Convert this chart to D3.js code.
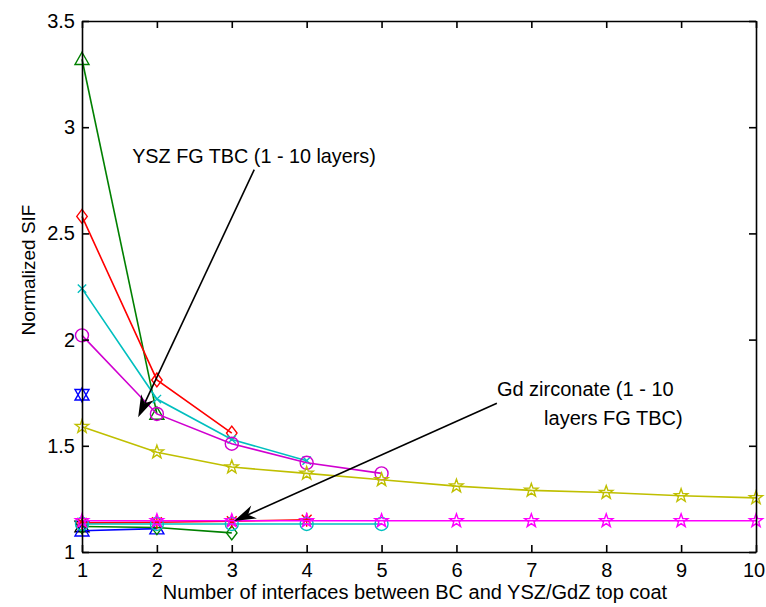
<!DOCTYPE html>
<meta charset="utf-8">
<script src="https://d3js.org/d3.v7.min.js"></script>
<style type="text/css">
body { margin: 0; background: #fff; }
svg { font-family: "Liberation Sans", Arial, sans-serif; }
.axis path, .axis line { stroke: #000; stroke-width: 1.6; }
.axis text { font-size: 20px; fill: #000; font-family: "Liberation Sans", Arial, sans-serif; }
</style>
<body>
</body>
<script>

// x positions: number of interfaces
var interfaces = [1, 2, 3, 4, 5, 6, 7, 8, 9, 10];
var xTicks = [1, 2, 3, 4, 5, 6, 7, 8, 9, 10];
var yTicks = [1, 1.5, 2, 2.5, 3, 3.5];

// YSZ FG TBC curves (1 - 10 layers)
var yszBlue    = [1.74];
var yszGreen   = [3.32, 1.65];
var yszRed     = [2.58, 1.81, 1.56];
var yszCyan    = [2.24, 1.72, 1.53, 1.43];
var yszMagenta = [2.02, 1.65, 1.51, 1.42, 1.37];
var yszYellow  = [1.59, 1.47, 1.40, 1.37, 1.34, 1.31, 1.29, 1.28, 1.265, 1.255];

// Gd zirconate curves (1 - 10 layers FG TBC)
var gdBlack   = [1.12];
var gdBlue    = [1.10, 1.11];
var gdGreen   = [1.12, 1.115, 1.09];
var gdRed     = [1.137, 1.14, 1.145, 1.152];
var gdCyan    = [1.132, 1.132, 1.132, 1.132, 1.132];
var gdMagenta = [1.147, 1.147, 1.147, 1.147, 1.147, 1.147, 1.147, 1.147, 1.147, 1.147];

var width = 766;
var height = 607;
var mLeft = 82, mRight = 756, mTop = 21, mBottom = 552;

var svg = d3.select("body").append("svg")
    .attr("width", width)
    .attr("height", height);

var x = d3.scaleLinear().domain([1, 10]).range([mLeft, mRight]);
var y = d3.scaleLinear().domain([1, 3.5]).range([mBottom, mTop]);

// marker shapes (matlab style, outlined)
function markerPath(type, s) {
  var r = s / 2, p, i, a;
  if (type == "circle") {
    return "M" + r + ",0A" + r + "," + r + " 0 1,1 " + (-r) + ",0A" + r + "," + r + " 0 1,1 " + r + ",0Z";
  }
  if (type == "triUp") return "M0," + (-r) + "L" + r + "," + (r * 0.75) + "L" + (-r) + "," + (r * 0.75) + "Z";
  if (type == "triDown") return "M0," + r + "L" + r + "," + (-r * 0.75) + "L" + (-r) + "," + (-r * 0.75) + "Z";
  if (type == "diamond") return "M0," + (-r) + "L" + (r * 0.75) + ",0L0," + r + "L" + (-r * 0.75) + ",0Z";
  if (type == "x") return "M" + (-r * 0.6) + "," + (-r * 0.6) + "L" + (r * 0.6) + "," + (r * 0.6) + "M" + (r * 0.6) + "," + (-r * 0.6) + "L" + (-r * 0.6) + "," + (r * 0.6);
  if (type == "asterisk") {
    return "M0," + (-r) + "L0," + r + "M" + (-r) + ",0L" + r + ",0" +
      "M" + (-r * 0.7) + "," + (-r * 0.7) + "L" + (r * 0.7) + "," + (r * 0.7) +
      "M" + (r * 0.7) + "," + (-r * 0.7) + "L" + (-r * 0.7) + "," + (r * 0.7);
  }
  if (type == "star") {
    p = [];
    for (i = 0; i < 10; i++) {
      a = -Math.PI / 2 + i * Math.PI / 5;
      var rr = i % 2 == 0 ? r : r * 0.4;
      p.push([rr * Math.cos(a), rr * Math.sin(a)]);
    }
    return "M" + p.join("L") + "Z";
  }
  if (type == "hexagram") {
    return markerPath("triUp", s) + markerPath("triDown", s);
  }
  return "";
}

var series = [
  {values: yszBlue,    color: "#0000ff", marker: "hexagram"},
  {values: yszGreen,   color: "#008000", marker: "triUp"},
  {values: yszRed,     color: "#ff0000", marker: "diamond"},
  {values: yszCyan,    color: "#00bfbf", marker: "x"},
  {values: yszMagenta, color: "#d000d0", marker: "circle"},
  {values: yszYellow,  color: "#bfbf00", marker: "star"},
  {values: gdBlack,    color: "#000000", marker: "hexagram"},
  {values: gdBlue,     color: "#0000ff", marker: "triUp"},
  {values: gdGreen,    color: "#008000", marker: "diamond"},
  {values: gdRed,      color: "#ff0000", marker: "asterisk"},
  {values: gdCyan,     color: "#00bfbf", marker: "circle"},
  {values: gdMagenta,  color: "#ff00ff", marker: "star"}
];

var line = d3.line()
    .x(function(d, i) { return x(interfaces[i]); })
    .y(function(d) { return y(d); });

var g = svg.selectAll(".series")
  .data(series)
  .enter().append("g")
  .attr("class", "series");

g.append("path")
  .attr("d", function(d) { return line(d.values); })
  .attr("fill", "none")
  .attr("stroke", function(d) { return d.color; })
  .attr("stroke-width", 1.6);

g.selectAll(".mark")
  .data(function(d) { return d.values.map(function(v, i) { return {x: interfaces[i], y: v, s: d}; }); })
  .enter().append("path")
  .attr("class", "mark")
  .attr("transform", function(d) { return "translate(" + x(d.x) + "," + y(d.y) + ")"; })
  .attr("d", function(d) { return markerPath(d.s.marker, d.s.marker == "circle" ? 13 : 14); })
  .attr("fill", "none")
  .attr("stroke", function(d) { return d.s.color; })
  .attr("stroke-width", 1.4);

// axes, ticks pointing inward (box)
var xAxisG = svg.append("g").attr("class", "axis")
  .attr("transform", "translate(0," + mBottom + ")")
  .call(d3.axisBottom(x).tickValues(xTicks).tickSize(-7).tickPadding(11).tickSizeOuter(0).tickFormat(function(d) { return d; }));

// last label sits against the window edge
xAxisG.selectAll(".tick text").filter(function(d) { return d == 10; })
  .attr("dx", -2.5);

svg.append("g").attr("class", "axis")
  .attr("transform", "translate(0," + mTop + ")")
  .call(d3.axisTop(x).tickValues(xTicks).tickSize(-7).tickSizeOuter(0).tickFormat(""));

svg.append("g").attr("class", "axis")
  .attr("transform", "translate(" + mLeft + ",0)")
  .call(d3.axisLeft(y).tickValues(yTicks).tickSize(-7).tickPadding(7).tickSizeOuter(0).tickFormat(function(d) { return d; }));

svg.append("g").attr("class", "axis")
  .attr("transform", "translate(" + mRight + ",0)")
  .call(d3.axisRight(y).tickValues(yTicks).tickSize(-7).tickSizeOuter(0).tickFormat(""));

// axis labels
svg.append("text")
  .attr("x", (mLeft + mRight) / 2 - 4)
  .attr("y", 599)
  .attr("text-anchor", "middle")
  .attr("font-size", 20)
  .text("Number of interfaces between BC and YSZ/GdZ top coat");

svg.append("text")
  .attr("transform", "translate(35,270) rotate(-90)")
  .attr("text-anchor", "middle")
  .attr("font-size", 19)
  .text("Normalized SIF");

// annotations (in data units)
function arrow(x1, y1, x2, y2) {
  var px1 = x(x1), py1 = y(y1), px2 = x(x2), py2 = y(y2);
  var ang = Math.atan2(py2 - py1, px2 - px1);
  var L = 22, W = 7;
  var bx = px2 - L * Math.cos(ang), by = py2 - L * Math.sin(ang);
  var mx = px2 - L * 0.7 * Math.cos(ang), my = py2 - L * 0.7 * Math.sin(ang);
  svg.append("line")
    .attr("x1", px1).attr("y1", py1).attr("x2", mx).attr("y2", my)
    .attr("stroke", "#000").attr("stroke-width", 1.6);
  svg.append("path")
    .attr("d", "M" + px2 + "," + py2 +
      "L" + (bx - W * Math.sin(ang)) + "," + (by + W * Math.cos(ang)) +
      "L" + mx + "," + my +
      "L" + (bx + W * Math.sin(ang)) + "," + (by - W * Math.cos(ang)) + "Z")
    .attr("fill", "#000");
}

arrow(3.30, 2.80, 1.75, 1.635);
arrow(6.54, 1.70, 3.03, 1.146);

svg.append("text")
  .attr("x", x(1.67)).attr("y", y(2.83))
  .attr("font-size", 19.8)
  .text("YSZ FG TBC (1 - 10 layers)");

svg.append("text")
  .attr("x", x(6.54)).attr("y", y(1.734))
  .attr("font-size", 20)
  .text("Gd zirconate (1 - 10");

svg.append("text")
  .attr("x", x(7.17)).attr("y", y(1.60))
  .attr("font-size", 20)
  .text("layers FG TBC)");

</script>
